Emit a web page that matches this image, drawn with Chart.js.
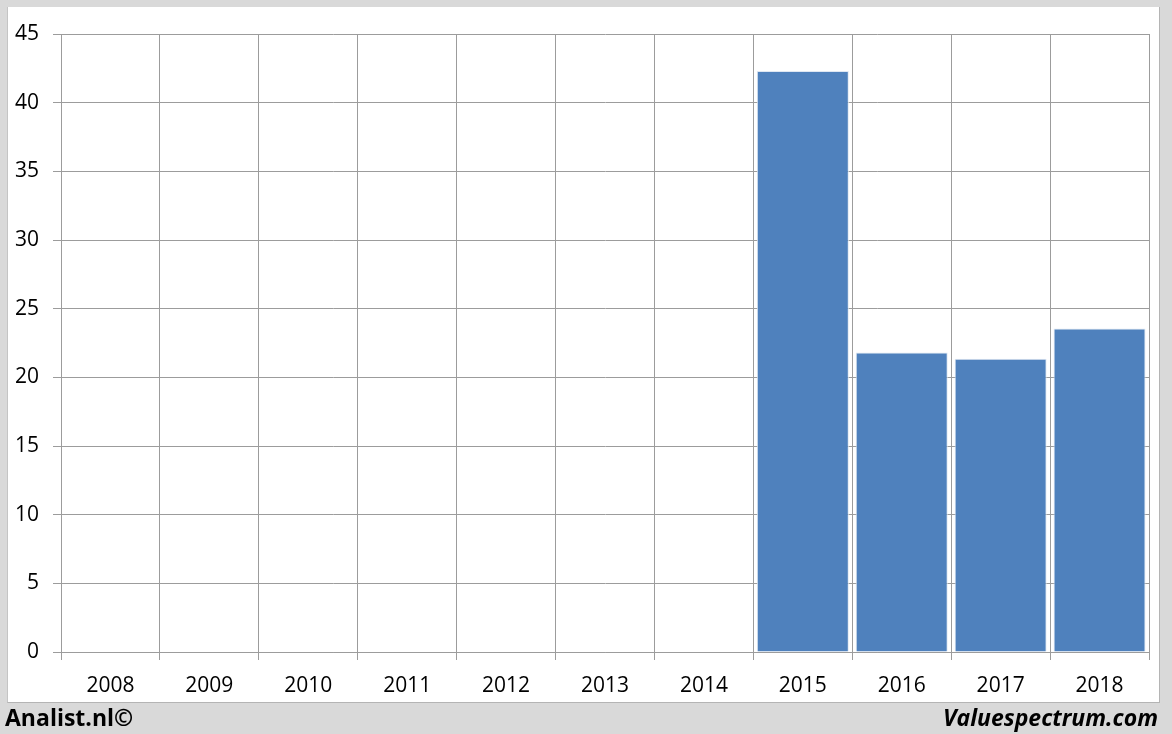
<!DOCTYPE html>
<html>
<head>
<meta charset="utf-8">
<script src="https://cdn.jsdelivr.net/npm/chart.js@4"></script>
<style>
  html, body { margin: 0; padding: 0; }
  body { width: 1172px; height: 734px; background: #d9d9d9; position: relative; overflow: hidden; }
  #panel { position: absolute; left: 7px; top: 7px; width: 1151px; height: 695px; background: #fff;
           border-left: 1px solid #c4c4c4; border-right: 1px solid #b4b4b4; border-bottom: 1px solid #b4b4b4; }
  #chart { position: absolute; left: 0; top: 0; }
  .foot { position: absolute; top: 702px; font-family: "Open Sans", sans-serif; font-weight: bold; font-size: 23px; color: #000; line-height: 30px; }
  #left { left: 5px; }
  #right { right: 14px; font-style: italic; }
</style>
</head>
<body>
<div id="panel"></div>
<canvas id="chart" width="1172" height="734"></canvas>
<div class="foot" id="left">Analist.nl©</div>
<div class="foot" id="right">Valuespectrum.com</div>
<script>
// chart data
var years = ['2008', '2009', '2010', '2011', '2012', '2013', '2014', '2015', '2016', '2017', '2018'];
var values = [null, null, null, null, null, null, null, 42.3, 21.8, 21.35, 23.55];
var yMin = 0, yMax = 45, yStep = 5;

var gridColor = '#9c9c9c';

var ctx = document.getElementById('chart').getContext('2d');
new Chart(ctx, {
    type: 'bar',
    data: {
        labels: years,
        datasets: [{
            data: values,
            backgroundColor: '#4f81bd',
            borderColor: '#dfe7f2',
            borderWidth: 1,
            barPercentage: 0.93,
            categoryPercentage: 1.0
        }]
    },
    options: {
        responsive: false,
        animation: false,
        layout: { padding: { left: 0, top: 34, right: 23, bottom: 0 } },
        plugins: {
            legend: { display: false },
            tooltip: { enabled: false }
        },
        scales: {
            x: {
                offset: true,
                grid: { color: gridColor, offset: true, tickLength: 8, lineWidth: 1 },
                border: { color: gridColor },
                ticks: { color: '#000', font: { family: 'Open Sans', size: 21 }, padding: 13, maxRotation: 0 },
                afterFit: function(scale) { scale.height = 82; }
            },
            y: {
                min: yMin,
                max: yMax,
                grid: { color: gridColor, tickLength: 8, lineWidth: 1 },
                border: { color: gridColor },
                ticks: { stepSize: yStep, color: '#000', font: { family: 'Open Sans', size: 21 }, padding: 14 },
                afterFit: function(scale) { scale.width = 61; }
            }
        }
    }
});
</script>
</body>
</html>
